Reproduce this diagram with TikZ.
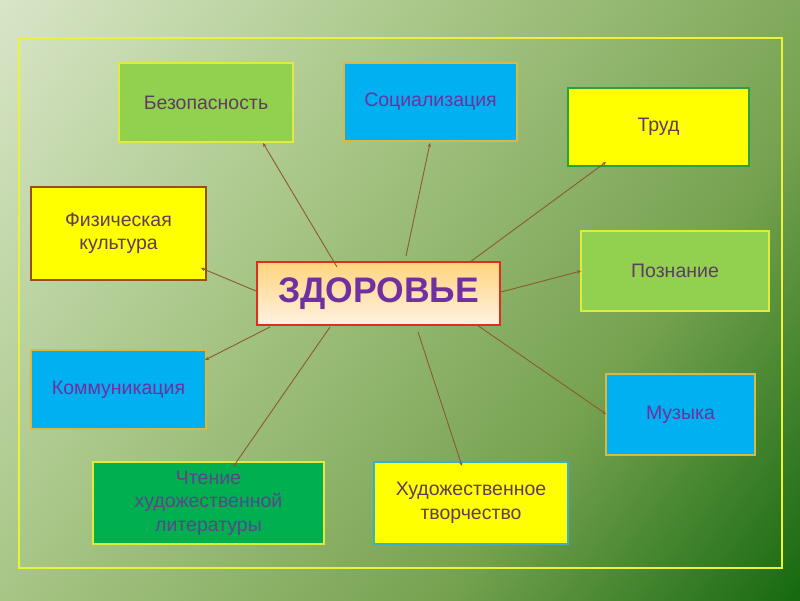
\documentclass[tikz,border=0pt]{standalone}
\usepackage{fontspec}
\setmainfont{Liberation Sans}
\usetikzlibrary{arrows.meta}
\definecolor{bgA}{RGB}{222,233,207}
\definecolor{bgB}{RGB}{168,198,135}
\definecolor{bgC}{RGB}{118,162,80}
\definecolor{bgD}{RGB}{22,105,15}
\definecolor{frameY}{RGB}{235,242,55}
\definecolor{lgreen}{RGB}{146,208,80}
\definecolor{cyanb}{RGB}{0,176,240}
\definecolor{yel}{RGB}{255,255,0}
\definecolor{dgreen}{RGB}{0,176,80}
\definecolor{bYel}{RGB}{225,235,60}
\definecolor{bGold}{RGB}{220,185,60}
\definecolor{bGreen}{RGB}{40,160,60}
\definecolor{bBrown}{RGB}{150,80,30}
\definecolor{bTeal}{RGB}{60,175,200}
\definecolor{bRed}{RGB}{225,45,25}
\definecolor{txtA}{RGB}{95,60,95}
\definecolor{txtP}{RGB}{112,48,160}
\definecolor{txtG}{RGB}{90,70,140}
\definecolor{lineC}{RGB}{140,90,50}
\definecolor{zTop}{RGB}{255,212,125}
\definecolor{zBot}{RGB}{255,242,225}
\pgfdeclarehorizontalshading{bgshade}{100bp}{color(0bp)=(bgA); color(12bp)=(bgA); color(40bp)=(bgB); color(65bp)=(bgC); color(85bp)=(bgD); color(100bp)=(bgD)}
\tikzset{
  box/.style={draw, line width=2.5pt, inner sep=0pt, font=\fontsize{19.5}{23.5}\selectfont, align=center},
  conn/.style={draw=lineC, line width=0.9pt, -{Stealth[length=4pt,width=3.5pt]}}
}
\begin{document}
\begin{tikzpicture}[x=1pt,y=-1pt]
\useasboundingbox (0,0) rectangle (800,600);
\shade[shading=bgshade, shading angle=-37] (0,0) rectangle (800,600);
\draw[frameY, line width=2.5pt] (19,38) rectangle (782,568);

\node[box, fill=lgreen, draw=bYel, minimum width=174pt, minimum height=79pt, text=txtA] (bez) at (206,102.5) {Безопасность};
\node[box, fill=cyanb, draw=bGold, minimum width=173pt, minimum height=78pt, text=txtP] (soc) at (430.5,102) {Социализация};
\node[box, fill=yel, draw=bGreen, minimum width=181pt, minimum height=78pt, text=txtA] (trud) at (658.5,127) {Труд};
\node[box, fill=yel, draw=bBrown, minimum width=175pt, minimum height=93pt, text=txtA] (fiz) at (118.5,233.5) {Физическая\\культура};
\node[box, fill=lgreen, draw=bYel, minimum width=188pt, minimum height=80pt, text=txtA] (poz) at (675,271) {Познание};
\node[box, fill=cyanb, draw=bGold, minimum width=175pt, minimum height=79pt, text=txtP] (kom) at (118.5,389.5) {Коммуникация};
\node[box, fill=cyanb, draw=bGold, minimum width=149pt, minimum height=81pt, text=txtP] (muz) at (680.5,414.5) {Музыка};
\node[box, fill=dgreen, draw=bYel, minimum width=231pt, minimum height=82pt, text=txtG] (cht) at (208.5,503) {Чтение\\художественной\\литературы};
\node[box, fill=yel, draw=bTeal, minimum width=194pt, minimum height=82pt, text=txtA] (hud) at (471,503) {Художественное\\творчество};

\node[draw=bRed, line width=2.5pt, top color=zTop, bottom color=zBot, minimum width=243pt, minimum height=63pt, inner sep=0pt, text=txtP, font=\fontsize{35.5}{40}\selectfont\bfseries] (zd) at (378.5,293.5) {ЗДОРОВЬЕ};

\coordinate (s1) at (337,267); \coordinate (e1) at (263,143);
\coordinate (s2) at (406,256); \coordinate (e2) at (430,143);
\coordinate (s3) at (470,262); \coordinate (e3) at (606,162);
\coordinate (s4) at (501,292); \coordinate (e4) at (581,271);
\coordinate (s5) at (256,291); \coordinate (e5) at (201,268);
\coordinate (s6) at (270,327); \coordinate (e6) at (205,360);
\coordinate (s7) at (330,327); \coordinate (e7) at (233,467);
\coordinate (s8) at (418,332); \coordinate (e8) at (462,466);
\coordinate (s9) at (477,325); \coordinate (e9) at (606,414);
\foreach \i in {1,...,9} {\draw[conn] (s\i) -- (e\i);}
\end{tikzpicture}
\end{document}
